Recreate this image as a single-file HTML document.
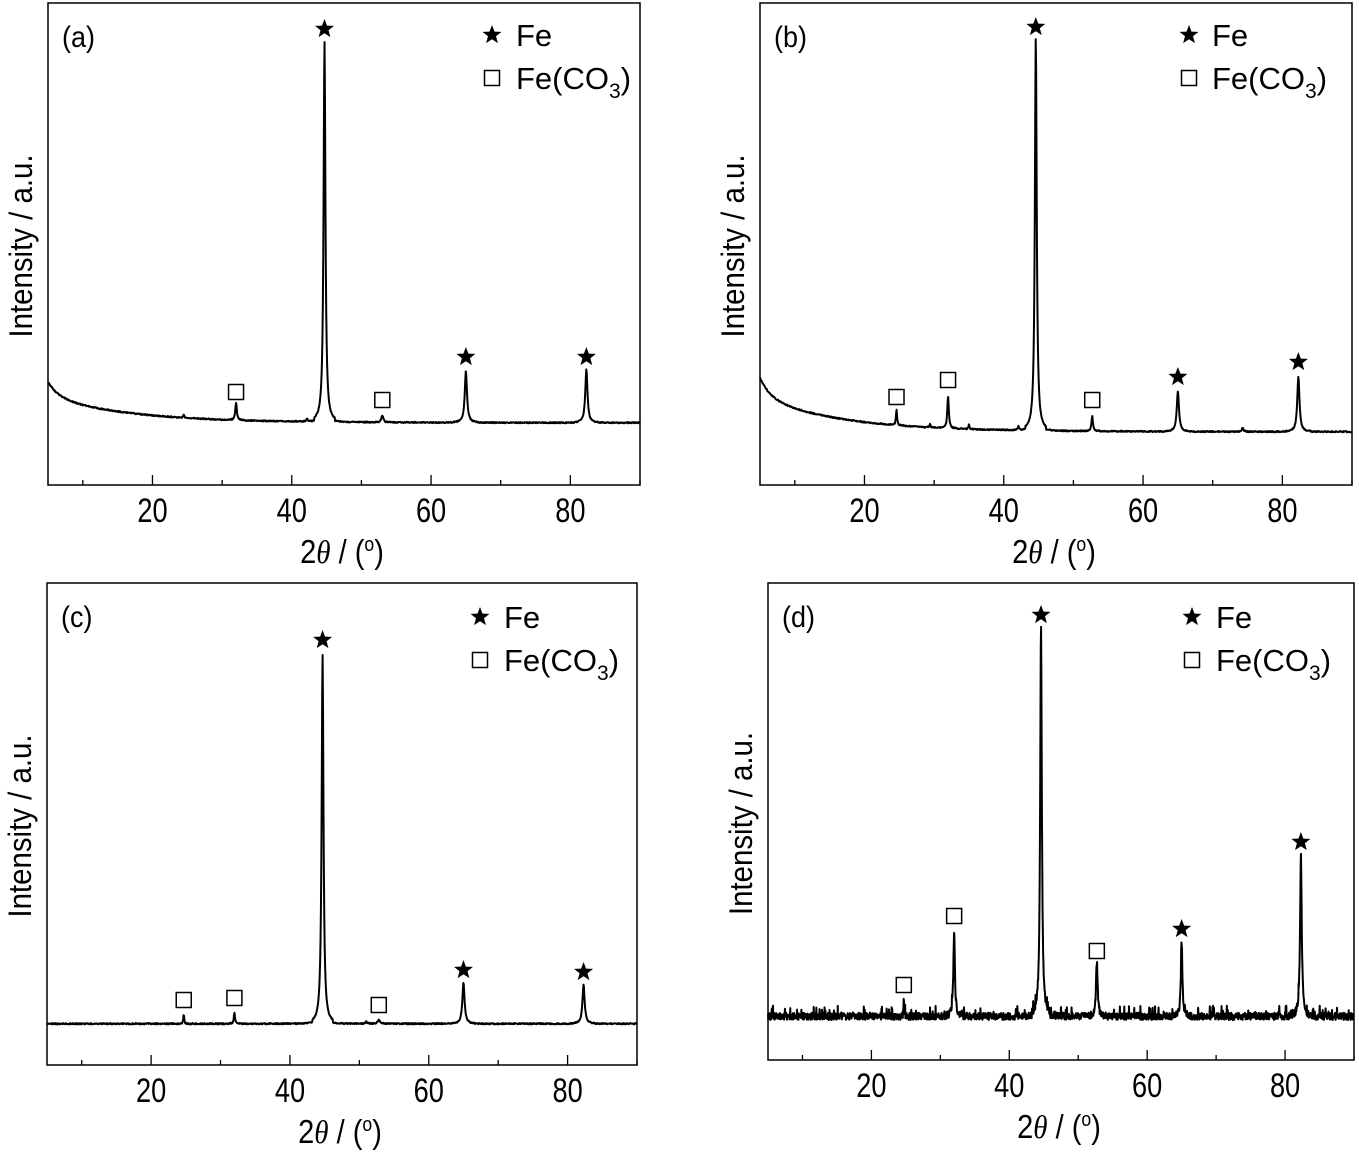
<!DOCTYPE html>
<html><head><meta charset="utf-8"><style>
html,body{margin:0;padding:0;background:#fff;}
svg{display:block;font-family:"Liberation Sans",Arial,sans-serif;}
</style></head><body>
<svg id="s" width="1359" height="1156" viewBox="0 0 1359 1156" xmlns="http://www.w3.org/2000/svg"></svg>
<script>
var s=document.getElementById('s');var out='';
var seed=1;function rnd(){seed=(seed*16807)%2147483647;return seed/2147483647;}
var panels=[
 {L:48,R:640,T:3,B:485,lab:'(a)',base:423,start:382,noise:1.2,decay:3.5,
  peaks:[[44.7,423-42,0.25],[65,423-372,0.3],[82.3,423-370,0.3],[32,423-405,0.2],[53,423-416,0.25],[24.5,3,0.15],[42.2,3,0.15]],
  marks:[['s',44.7,29],['s',65,357],['s',82.3,357],['q',32,392],['q',53,400]],leg:[492,516,35,78]},
 {L:760,R:1352,T:3,B:485,lab:'(b)',base:432,start:378,noise:1.2,decay:3.5,
  peaks:[[44.6,432-38,0.25],[65,432-392,0.3],[82.3,432-377,0.3],[32,432-400,0.2],[24.6,432-417,0.15],[52.7,432-417,0.2],[74.3,4,0.2],[35,5,0.12],[29.4,4,0.12],[42.1,4,0.15]],
  marks:[['s',44.6,27],['s',65,377],['s',82.3,362],['q',24.6,397],['q',32,380],['q',52.7,400]],leg:[1189,1212,35,78]},
 {L:47,R:637,T:583,B:1065,lab:'(c)',base:1024,start:1024,noise:1.3,decay:0,
  peaks:[[44.7,1024-655,0.25],[65,1024-983,0.3],[82.3,1024-985,0.3],[24.7,1024-1015,0.12],[32,1024-1013,0.15],[52.8,1024-1020,0.3],[51,2,0.2]],
  marks:[['s',44.7,640],['s',65,970],['s',82.3,972],['q',24.7,1000],['q',32,998],['q',52.8,1005]],leg:[480,504,617,660]},
 {L:768,R:1354,T:583,B:1060,lab:'(d)',base:1020,start:1020,noise:8,decay:0,
  peaks:[[44.6,1020-630,0.22],[82.3,1020-857,0.22],[32,1020-932,0.2],[65,1020-945,0.2],[52.7,1020-966,0.22],[24.7,1020-1002,0.08]],
  marks:[['s',44.6,615],['s',65,929],['s',82.3,842],['q',24.7,985],['q',32,916],['q',52.7,951]],leg:[1192,1216,617,660]}
];
function star(cx,cy,r){var p='';for(var i=0;i<10;i++){var a=-Math.PI/2+i*Math.PI/5;var rr=i%2?r*0.42:r;p+=(i?'L':'M')+(cx+rr*Math.cos(a)).toFixed(1)+' '+(cy+rr*Math.sin(a)).toFixed(1);}return '<path d="'+p+'Z" fill="#000"/>';}
function sq(cx,cy){return '<rect x="'+(cx-7.5)+'" y="'+(cy-7.5)+'" width="15" height="15" fill="none" stroke="#000" stroke-width="1.5"/>';}
panels.forEach(function(P){
 var sx=(P.R-P.L)/85;function X(v){return P.L+(v-5)*sx;}
 out+='<rect x="'+P.L+'" y="'+P.T+'" width="'+(P.R-P.L)+'" height="'+(P.B-P.T)+'" fill="none" stroke="#000" stroke-width="1.5"/>';
 for(var t=10;t<=90;t+=10){var x=X(t);var len=t%20==0?10:5;out+='<line x1="'+x+'" y1="'+P.B+'" x2="'+x+'" y2="'+(P.B-len)+'" stroke="#000" stroke-width="1.3"/>';
  if(t%20==0)out+='<text transform="translate('+x+','+(P.B+37)+') scale(0.8,1)" font-size="34" text-anchor="middle">'+t+'</text>';}
 var cxm=(P.L+P.R)/2;
 out+='<text transform="translate('+(cxm-2)+','+(P.B+78)+') scale(0.88,1)" font-size="33" text-anchor="middle">2<tspan font-style="italic" font-family="Liberation Serif,serif">θ</tspan> / (<tspan dy="-12" font-size="20">o</tspan><tspan dy="12">)</tspan></text>';
 var cy=(P.T+P.B)/2;
 out+='<text transform="translate('+(P.L-16)+','+(cy+2)+') rotate(-90) scale(0.92,1)" font-size="32" text-anchor="middle">Intensity / a.u.</text>';
 out+='<text transform="translate('+(P.L+14)+','+(P.T+44)+') scale(0.9,1)" font-size="30">'+P.lab+'</text>';
 var d='';var n=P.noise>3?2000:1400;
 for(var i=0;i<=n;i++){var v=5+85*i/n;var y=P.base;
  if(P.decay)y-=(P.base-P.start)*(0.35*Math.exp(-(v-5)/1.5)+0.65*Math.exp(-(v-5)/P.decay*0.3));
  for(var k=0;k<P.peaks.length;k++){var pk=P.peaks[k];var dx=(v-pk[0])/pk[2];y-=pk[1]/(1+dx*dx*2.5)*(Math.abs(dx)<6?1:0.3);}
  var r=rnd();
  y-=(P.noise>3)?(r*P.noise*(rnd()<0.1?1.8:0.9)):(r-0.3)*P.noise;
  d+=(i?'L':'M')+X(v).toFixed(2)+' '+y.toFixed(2);}
 out+='<path d="'+d+'" fill="none" stroke="#000" stroke-width="2" stroke-linejoin="round"/>';
 P.marks.forEach(function(m){out+=m[0]=='s'?star(X(m[1]),m[2],10):sq(X(m[1]),m[2]);});
 var g=P.leg;out+=star(g[0],g[2],10)+'<text transform="translate('+g[1]+','+(g[2]+11)+')" font-size="31">Fe</text>';
 out+=sq(g[0],g[3])+'<text transform="translate('+g[1]+','+(g[3]+11)+')" font-size="31">Fe(CO<tspan dy="9" font-size="21">3</tspan><tspan dy="-9">)</tspan></text>';
});
s.innerHTML=out;
</script>
</body></html>
